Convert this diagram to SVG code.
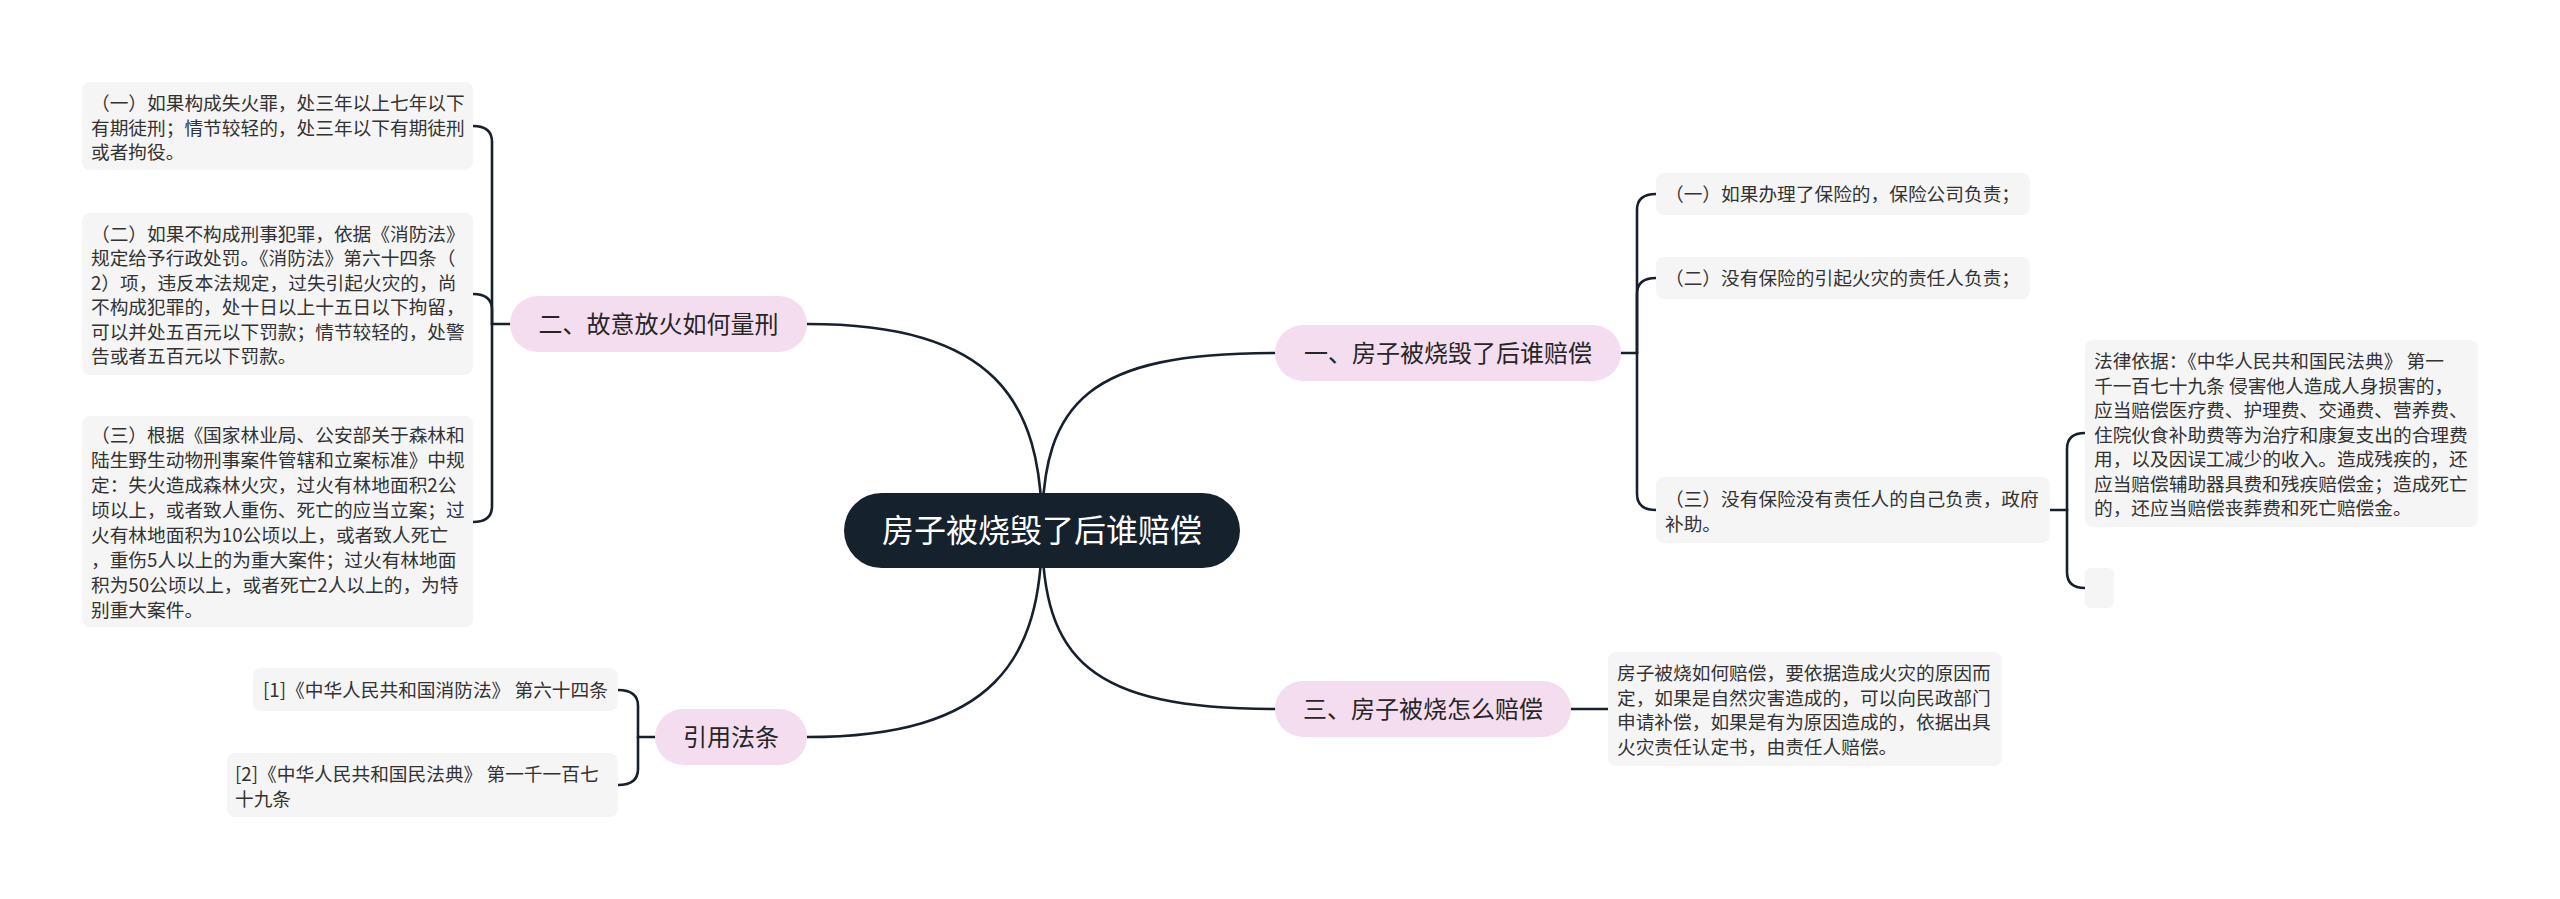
<svg xmlns="http://www.w3.org/2000/svg" width="2560" height="899" viewBox="0 0 2560 899">
<style>
text{font-family:"Noto Sans CJK SC","Noto Sans",sans-serif}
.leaf{fill:#f5f5f5}
.lt{font-size:18.7px;fill:#333333}
.pill{fill:#f5ddf0}
.pt{font-size:24px;fill:#262626;text-anchor:middle}
.conn path{fill:none;stroke:#17212e;stroke-width:2.6;stroke-linecap:round}
</style>
<rect width="2560" height="899" fill="#ffffff"/>
<g class="conn" id="connectors">
<path d="M1042 530 C1042 400 1090 353 1275 353"/>
<path d="M1042 530 C1042 660 1090 709 1275 709"/>
<path d="M1042 530 C1042 400 994 324 807 324"/>
<path d="M1042 530 C1042 660 994 737 807 737"/>
<path d="M510 324 H492"/>
<path d="M492 324 V142 Q492 126 473 126"/>
<path d="M492 324 V310 Q492 294 473 294"/>
<path d="M492 324 V506 Q492 522 473 522"/>
<path d="M655 737 H638"/>
<path d="M638 737 V706 Q638 690 618 690"/>
<path d="M638 737 V769 Q638 785 618 785"/>
<path d="M1621 353 H1637"/>
<path d="M1637 353 V210 Q1637 194 1656 194"/>
<path d="M1637 353 V294 Q1637 278 1656 278"/>
<path d="M1637 353 V494 Q1637 510 1656 510"/>
<path d="M2050 510 H2067"/>
<path d="M2067 510 V449 Q2067 433 2085 433"/>
<path d="M2067 510 V572 Q2067 588 2085 588"/>
<path d="M1571 709 H1608"/>
</g>
<g id="root">
<rect x="844" y="493" width="396" height="75" rx="37.5" fill="#16212e"/>
<text x="1042" y="542" font-size="32" fill="#ffffff" text-anchor="middle">房子被烧毁了后谁赔偿</text>
</g>
<g id="b1">
<rect class="pill" x="1275" y="325" width="346" height="56" rx="28"/>
<text class="pt" x="1448" y="362">一、房子被烧毁了后谁赔偿</text>
</g>
<g id="b3">
<rect class="pill" x="1275" y="681" width="296" height="56" rx="28"/>
<text class="pt" x="1423" y="718">三、房子被烧怎么赔偿</text>
</g>
<g id="b2">
<rect class="pill" x="510" y="296" width="297" height="56" rx="28"/>
<text class="pt" x="658.5" y="333">二、故意放火如何量刑</text>
</g>
<g id="b4">
<rect class="pill" x="655" y="709" width="152" height="56" rx="28"/>
<text class="pt" x="731" y="746">引用法条</text>
</g>
<g id="l1">
<rect class="leaf" x="82" y="82" width="391" height="88" rx="8"/>
<text class="lt" x="91"><tspan x="91" y="110">（一）如果构成失火罪，处三年以上七年以下</tspan><tspan x="91" y="134.5">有期徒刑；情节较轻的，处三年以下有期徒刑</tspan><tspan x="91" y="159">或者拘役。</tspan></text>
</g>
<g id="l2">
<rect class="leaf" x="82" y="213" width="391" height="162" rx="8"/>
<text class="lt"><tspan x="91" y="240.5">（二）如果不构成刑事犯罪，依据《消防法》</tspan><tspan x="91" y="265">规定给予行政处罚。《消防法》第六十四条（</tspan><tspan x="91" y="289.5">2）项，违反本法规定，过失引起火灾的，尚</tspan><tspan x="91" y="314">不构成犯罪的，处十日以上十五日以下拘留，</tspan><tspan x="91" y="338.5">可以并处五百元以下罚款；情节较轻的，处警</tspan><tspan x="91" y="363">告或者五百元以下罚款。</tspan></text>
</g>
<g id="l3">
<rect class="leaf" x="82" y="416" width="391" height="211" rx="8"/>
<text class="lt"><tspan x="91" y="441.5">（三）根据《国家林业局、公安部关于森林和</tspan><tspan x="91" y="466.5">陆生野生动物刑事案件管辖和立案标准》中规</tspan><tspan x="91" y="491.5">定：失火造成森林火灾，过火有林地面积2公</tspan><tspan x="91" y="516.5">顷以上，或者致人重伤、死亡的应当立案；过</tspan><tspan x="91" y="541.5">火有林地面积为10公顷以上，或者致人死亡</tspan><tspan x="91" y="566.5">，重伤5人以上的为重大案件；过火有林地面</tspan><tspan x="91" y="591.5">积为50公顷以上，或者死亡2人以上的，为特</tspan><tspan x="91" y="616.5">别重大案件。</tspan></text>
</g>
<g id="c1">
<rect class="leaf" x="253" y="668" width="365" height="43" rx="8"/>
<text class="lt" x="263" y="697">[1]《中华人民共和国消防法》 第六十四条</text>
</g>
<g id="c2">
<rect class="leaf" x="227" y="753" width="391" height="64" rx="8"/>
<text class="lt"><tspan x="235" y="781">[2]《中华人民共和国民法典》 第一千一百七</tspan><tspan x="235" y="805.5">十九条</tspan></text>
</g>
<g id="r1">
<rect class="leaf" x="1656" y="173" width="374" height="42" rx="8"/>
<text class="lt" x="1665" y="201">（一）如果办理了保险的，保险公司负责；</text>
</g>
<g id="r2">
<rect class="leaf" x="1656" y="257" width="374" height="42" rx="8"/>
<text class="lt" x="1665" y="285">（二）没有保险的引起火灾的责任人负责；</text>
</g>
<g id="r3">
<rect class="leaf" x="1656" y="477" width="394" height="66" rx="8"/>
<text class="lt"><tspan x="1665" y="506">（三）没有保险没有责任人的自己负责，政府</tspan><tspan x="1665" y="530.5">补助。</tspan></text>
</g>
<g id="r3a">
<rect class="leaf" x="2085" y="340" width="393" height="187" rx="8"/>
<text class="lt"><tspan x="2094" y="368">法律依据：《中华人民共和国民法典》 第一</tspan><tspan x="2094" y="392.5">千一百七十九条 侵害他人造成人身损害的，</tspan><tspan x="2094" y="417">应当赔偿医疗费、护理费、交通费、营养费、</tspan><tspan x="2094" y="441.5">住院伙食补助费等为治疗和康复支出的合理费</tspan><tspan x="2094" y="466">用，以及因误工减少的收入。造成残疾的，还</tspan><tspan x="2094" y="490.5">应当赔偿辅助器具费和残疾赔偿金；造成死亡</tspan><tspan x="2094" y="515">的，还应当赔偿丧葬费和死亡赔偿金。</tspan></text>
</g>
<g id="r3b">
<rect class="leaf" x="2085" y="568" width="29" height="40" rx="6"/>
</g>
<g id="b3a">
<rect class="leaf" x="1608" y="652" width="394" height="114" rx="8"/>
<text class="lt"><tspan x="1617" y="680">房子被烧如何赔偿，要依据造成火灾的原因而</tspan><tspan x="1617" y="704.5">定，如果是自然灾害造成的，可以向民政部门</tspan><tspan x="1617" y="729">申请补偿，如果是有为原因造成的，依据出具</tspan><tspan x="1617" y="753.5">火灾责任认定书，由责任人赔偿。</tspan></text>
</g>
</svg>
